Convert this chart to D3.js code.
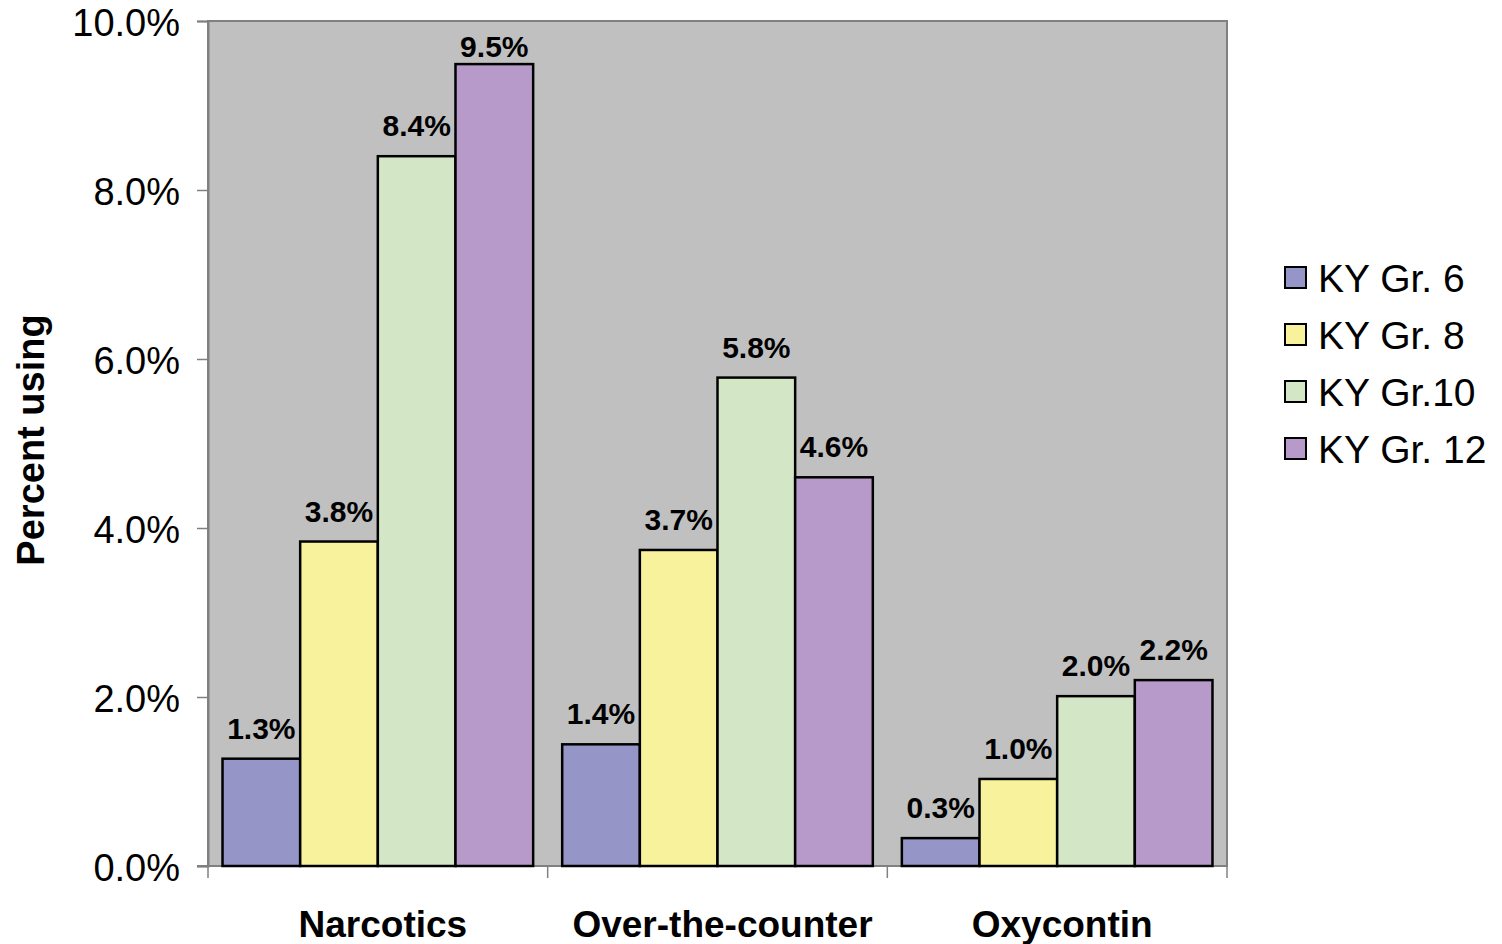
<!DOCTYPE html>
<html><head><meta charset="utf-8">
<script src="https://cdn.jsdelivr.net/npm/d3@7"></script>
<style>body{margin:0;background:#fff}svg{display:block;font-family:"Liberation Sans",Arial,sans-serif}</style>
</head><body>
<script>
const categories = ["Narcotics", "Over-the-counter", "Oxycontin"];
const seriesNames = ["KY Gr. 6", "KY Gr. 8", "KY Gr.10", "KY Gr. 12"];
const gr6  = [1.27, 1.44, 0.33];
const gr8  = [3.84, 3.74, 1.03];
const gr10 = [8.40, 5.78, 2.01];
const gr12 = [9.49, 4.60, 2.20];
const yTicks = [0, 2, 4, 6, 8, 10];
const colors = ["#9595C8", "#F9F29C", "#D3E6C6", "#B89ACA"];

const series = [gr6, gr8, gr10, gr12];
const W = 1502, H = 944;
const m = {left: 208, top: 21, right: 1227, bottom: 866};

const svg = d3.select("body").append("svg").attr("width", W).attr("height", H);

const x0 = d3.scaleBand().domain(categories).range([m.left, m.right]).paddingInner(0).paddingOuter(0);
const x1 = d3.scaleBand().domain(d3.range(4)).range([0, x0.bandwidth()]).paddingOuter(0.187).paddingInner(0);
const y = d3.scaleLinear().domain([0, 10]).range([m.bottom, m.top]);

svg.append("rect").attr("x", m.left).attr("y", m.top)
  .attr("width", m.right - m.left).attr("height", m.bottom - m.top)
  .attr("fill", "#C0C0C0").attr("stroke", "#808080").attr("stroke-width", 2);

// Y axis
const yAxis = d3.axisLeft(y).tickValues(yTicks).tickSize(11).tickPadding(17)
  .tickFormat(d => d.toFixed(1) + "%");
const gy = svg.append("g").attr("transform", `translate(${m.left},0)`).call(yAxis);
gy.select(".domain").attr("stroke", "#808080").attr("stroke-width", 2);
gy.selectAll(".tick line").attr("stroke", "#808080").attr("stroke-width", 1.5);
gy.selectAll(".tick text").attr("font-size", 38).attr("fill", "#000")
  .attr("font-family", "'Liberation Sans',Arial,sans-serif").attr("dy", "0.38em");

// X axis
const gx = svg.append("g").attr("transform", `translate(0,${m.bottom})`);
gx.append("line").attr("x1", m.left - 11).attr("x2", m.right).attr("stroke", "#808080").attr("stroke-width", 2);
const bounds = categories.map(c => x0(c)).concat([m.right]);
gx.selectAll(".xt").data(bounds).join("line")
  .attr("x1", d => d).attr("x2", d => d).attr("y1", 0).attr("y2", 12)
  .attr("stroke", "#808080").attr("stroke-width", 1.5);
gx.selectAll(".xl").data(categories).join("text")
  .attr("x", d => x0(d) + x0.bandwidth() / 2 + 5).attr("y", 71)
  .attr("text-anchor", "middle").attr("font-size", 37).attr("font-weight", "bold").text(d => d);

// Bars
const fmt = d3.format(".1%");
categories.forEach((c, ci) => {
  series.forEach((s, si) => {
    const v = s[ci];
    const bx = x0(c) + x1(si);
    svg.append("rect").attr("x", bx).attr("y", y(v))
      .attr("width", x1.bandwidth()).attr("height", y(0) - y(v))
      .attr("fill", colors[si]).attr("stroke", "#000").attr("stroke-width", 2.5);
    svg.append("text").attr("x", bx + x1.bandwidth() / 2)
      .attr("y", Math.max(y(v) - 20, m.top + 36))
      .attr("text-anchor", "middle").attr("font-size", 30).attr("font-weight", "bold")
      .text(fmt(v / 100));
  });
});

// Y title
svg.append("text").attr("transform", `translate(44,440) rotate(-90)`)
  .attr("text-anchor", "middle").attr("font-size", 38).attr("font-weight", "bold").text("Percent using");

// Legend
const lg = svg.append("g");
seriesNames.forEach((n, i) => {
  const cy = 278 + i * 57;
  lg.append("rect").attr("x", 1285).attr("y", cy - 11).attr("width", 21).attr("height", 21)
    .attr("fill", colors[i]).attr("stroke", "#000").attr("stroke-width", 2);
  lg.append("text").attr("x", 1318).attr("y", cy).attr("dy", "0.36em")
    .attr("font-size", 39).text(n);
});
</script>
</body></html>
